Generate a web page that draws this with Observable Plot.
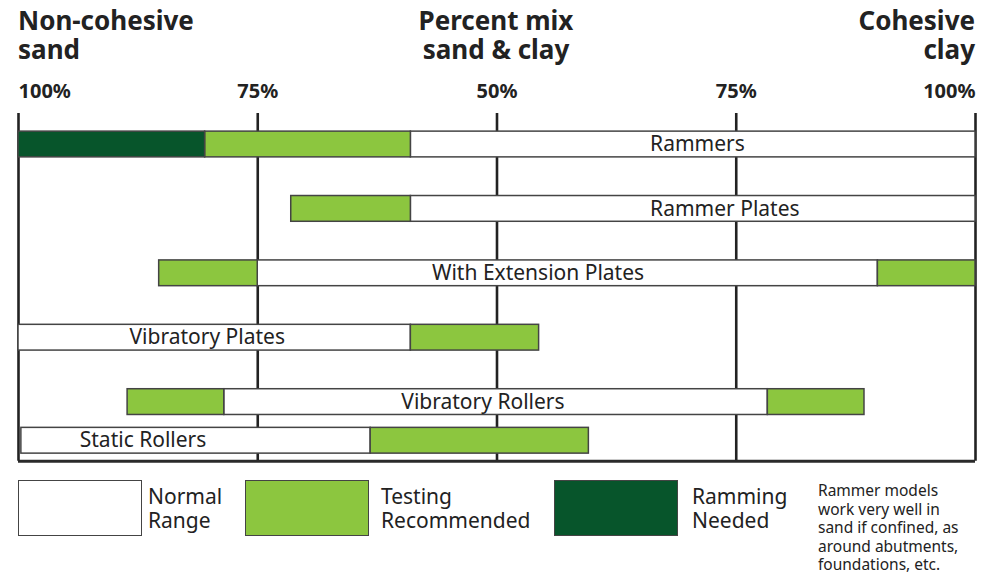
<!DOCTYPE html>
<html>
<head>
<meta charset="utf-8">
<script src="https://cdn.jsdelivr.net/npm/d3@7"></script>
<script src="https://cdn.jsdelivr.net/npm/@observablehq/plot@0.6"></script>
<style>
  html, body { margin: 0; padding: 0; background: #fff; }
  body { font-family: "Noto Sans", "Open Sans", sans-serif; color: #222; }
  #wrap { position: relative; width: 994px; height: 574px; overflow: hidden; }
  #chart { position: absolute; left: 0; top: 0; }
  .head { position: absolute; font-weight: bold; font-size: 26px; line-height: 28px; color: #222; white-space: nowrap; }
  .box { position: absolute; top: 480px; width: 122px; height: 54px; border: 1.5px solid #444; }
  .ltext { position: absolute; top: 484px; font-size: 21px; line-height: 24px; color: #222; }
  .note { position: absolute; left: 818px; top: 481px; font-size: 15.5px; line-height: 18.6px; color: #222; }
</style>
</head>
<body>
<div id="wrap">
  <div id="chart"></div>
  <div class="head" style="left:18px;top:6px">Non-cohesive</div>
  <div class="head" style="left:18px;top:35px">sand</div>
  <div class="head" style="left:296px;width:400px;top:6px;text-align:center">Percent mix</div>
  <div class="head" style="left:296px;width:400px;top:35px;text-align:center">sand &amp; clay</div>
  <div class="head" style="right:19px;top:6px;text-align:right">Cohesive</div>
  <div class="head" style="right:19px;top:35px;text-align:right">clay</div>
  <div id="legend"></div>
  <div class="note">Rammer models<br>work very well in<br>sand if confined, as<br>around abutments,<br>foundations, etc.</div>
</div>
<script>
// ---- data ----
const tools = ["Rammers", "Rammer Plates", "With Extension Plates", "Vibratory Plates", "Vibratory Rollers", "Static Rollers"];
const normalRanges = [[41, 100], [41, 100], [25, 89.8], [0, 41], [21.5, 78.3], [0.3, 36.8]];
const testingRanges = [[[19.5, 41]], [[28.5, 41]], [[14.7, 25], [89.8, 100]], [[41, 54.4]], [[11.4, 21.5], [78.3, 88.4]], [[36.8, 59.6]]];
const rammingRanges = [[[0, 19.5]], [], [], [], [], []];
const labelStart = [66, 66, 43.2, 11.6, 40, 6.4];
const tickValues = [0, 25, 50, 75, 100];
const tickLabels = ["100%", "75%", "50%", "75%", "100%"];
const legendKeys = ["Normal", "Testing", "Ramming"];
const legendLabels = [["Normal", "Range"], ["Testing", "Recommended"], ["Ramming", "Needed"]];

// ---- layout (row slots in y units) ----
const rowSlot = [0, 1, 2, 3, 4, 4.6];
const half = 0.2;
const frameTop = -0.48, frameBottom = 4.92;
const colors = { Normal: "#ffffff", Testing: "#8cc63f", Ramming: "#07552b" };

const segments = [];
tools.forEach((t, i) => {
  segments.push({ tool: t, slot: rowSlot[i], x1: normalRanges[i][0], x2: normalRanges[i][1], kind: "Normal" });
  testingRanges[i].forEach(r => segments.push({ tool: t, slot: rowSlot[i], x1: r[0], x2: r[1], kind: "Testing" }));
  rammingRanges[i].forEach(r => segments.push({ tool: t, slot: rowSlot[i], x1: r[0], x2: r[1], kind: "Ramming" }));
});
const labels = tools.map((t, i) => ({ text: t, x: labelStart[i], slot: rowSlot[i] }));
const tickLabel = v => tickLabels[tickValues.indexOf(v)];
const axisOpts = { anchor: "top", tickSize: 0, tickPadding: 7, tickFormat: tickLabel, fontSize: 20, fontWeight: "bold", fill: "#222" };

const chart = Plot.plot({
  width: 994,
  height: 470,
  marginLeft: 18,
  marginRight: 19,
  marginTop: 104,
  marginBottom: 0,
  style: { fontFamily: "'Noto Sans', 'Open Sans', sans-serif", color: "#222", background: "transparent" },
  x: { domain: [0, 100], axis: null },
  y: { type: "linear", domain: [0, 1], range: [144, 208.4], axis: null },
  marks: [
    Plot.ruleX(tickValues, { x: d => d, y1: frameTop, y2: frameBottom, stroke: "#222", strokeWidth: 2.6 }),
    Plot.ruleY([frameBottom], { x1: 0, x2: 100, stroke: "#2a2a2a", strokeWidth: 3 }),
    Plot.rect(segments, { x1: "x1", x2: "x2", y1: d => d.slot - half, y2: d => d.slot + half, fill: d => colors[d.kind], stroke: "#444", strokeWidth: 1.5 }),
    Plot.text(labels, { x: "x", y: "slot", text: "text", textAnchor: "start", fontSize: 21, fill: "#222" }),
    Plot.axisX(tickValues.filter(v => v === 0), { ...axisOpts, textAnchor: "start" }),
    Plot.axisX(tickValues.filter(v => v > 0 && v < 100), axisOpts),
    Plot.axisX(tickValues.filter(v => v === 100), { ...axisOpts, textAnchor: "end" })
  ]
});
document.getElementById("chart").appendChild(chart);

// ---- legend ----
const legend = document.getElementById("legend");
const boxLeft = [18, 245, 554];
const textLeft = [148, 381, 692];
legendKeys.forEach((k, i) => {
  const b = document.createElement("div");
  b.className = "box";
  b.style.left = boxLeft[i] + "px";
  b.style.background = colors[k];
  legend.appendChild(b);
  const t = document.createElement("div");
  t.className = "ltext";
  t.style.left = textLeft[i] + "px";
  t.innerHTML = legendLabels[i].join("<br>");
  legend.appendChild(t);
});
</script>
</body>
</html>
